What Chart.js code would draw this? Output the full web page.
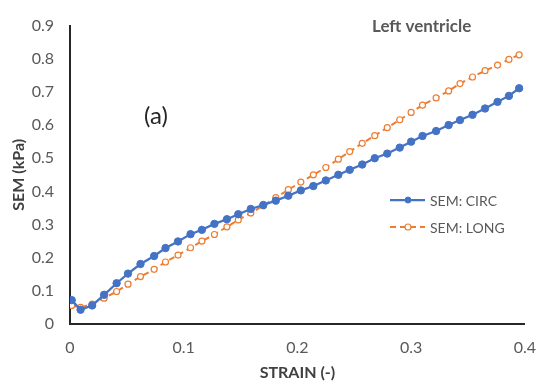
<!DOCTYPE html>
<html>
<head>
<meta charset="utf-8">
<script src="https://cdn.jsdelivr.net/npm/chart.js@4"></script>
<style>
  html, body { margin: 0; padding: 0; background: #fff; }
  #wrap { width: 550px; height: 392px; }
</style>
</head>
<body>
<div id="wrap"><canvas id="semChart"></canvas></div>
<script>
// strain (-) and SEM (kPa)
const strain = [0.0015, 0.0093, 0.0195, 0.030, 0.041, 0.051, 0.062, 0.074, 0.084, 0.095,
  0.106, 0.116, 0.127, 0.138, 0.148, 0.159, 0.170, 0.181, 0.192, 0.203,
  0.214, 0.225, 0.236, 0.246, 0.257, 0.268, 0.279, 0.290, 0.300, 0.310,
  0.322, 0.333, 0.343, 0.354, 0.365, 0.376, 0.386, 0.395];
const semCirc = [0.072, 0.043, 0.056, 0.088, 0.123, 0.152, 0.181, 0.205, 0.229, 0.249,
  0.271, 0.284, 0.302, 0.316, 0.331, 0.347, 0.359, 0.372, 0.387, 0.403,
  0.416, 0.433, 0.450, 0.465, 0.481, 0.500, 0.514, 0.532, 0.550, 0.567,
  0.582, 0.600, 0.615, 0.631, 0.650, 0.670, 0.688, 0.711];
const semLong = [0.056, 0.050, 0.060, 0.078, 0.098, 0.120, 0.143, 0.165, 0.187, 0.208,
  0.230, 0.250, 0.270, 0.293, 0.314, 0.335, 0.357, 0.381, 0.405, 0.428,
  0.450, 0.472, 0.497, 0.520, 0.545, 0.568, 0.592, 0.616, 0.638, 0.660,
  0.682, 0.703, 0.725, 0.745, 0.764, 0.781, 0.798, 0.812];
const seriesNames = ["SEM: CIRC", "SEM: LONG"];

const toPoints = (ys) => ys.map((y, i) => ({ x: strain[i], y: y }));

// legend + panel texts drawn inside the plot
const extras = {
  id: "extras",
  afterDraw(chart) {
    const c = chart.ctx;
    c.save();
    c.textBaseline = "middle";

    c.fillStyle = "#595959";
    c.font = "bold 17px Lato";
    c.fillText("Left ventricle", 372, 27);

    c.fillStyle = "#262626";
    c.font = "24px Lato";
    c.fillText("(a)", 144, 116);

    const rows = [200, 227];
    chart.data.datasets.forEach((ds, i) => {
      const y = rows[i];
      c.strokeStyle = ds.borderColor;
      c.lineWidth = ds.borderWidth;
      c.setLineDash(ds.borderDash || []);
      c.beginPath();
      c.moveTo(390, y);
      c.lineTo(425, y);
      c.stroke();
      c.setLineDash([]);
      c.beginPath();
      c.arc(408, y, 3, 0, Math.PI * 2);
      c.fillStyle = ds.pointBackgroundColor;
      c.fill();
      c.lineWidth = ds.pointBorderWidth;
      c.strokeStyle = ds.pointBorderColor;
      c.stroke();
      c.fillStyle = "#595959";
      c.font = "14px Lato";
      c.fillText(ds.label, 430, y + 1);
    });
    c.restore();
  }
};

new Chart(document.getElementById("semChart"), {
  type: "scatter",
  data: {
    datasets: [
      {
        label: seriesNames[0],
        data: toPoints(semCirc),
        showLine: true,
        borderColor: "#4472C4",
        borderWidth: 2.25,
        pointRadius: 3.7,
        pointBackgroundColor: "#4472C4",
        pointBorderColor: "#4472C4",
        pointBorderWidth: 1,
      },
      {
        label: seriesNames[1],
        data: toPoints(semLong),
        showLine: true,
        borderColor: "#ED7D31",
        borderWidth: 2,
        borderDash: [6, 4],
        pointRadius: 3,
        pointBackgroundColor: "#ffffff",
        pointBorderColor: "#ED7D31",
        pointBorderWidth: 1.2,
      },
    ],
  },
  options: {
    responsive: true,
    maintainAspectRatio: false,
    animation: false,
    layout: { padding: { top: 16, right: 20, left: 0, bottom: 0 } },
    plugins: {
      legend: { display: false },
      tooltip: { enabled: false },
    },
    scales: {
      x: {
        type: "linear",
        min: 0,
        max: 0.4,
        grid: { display: false, drawTicks: false },
        border: { display: true, color: "#262626", width: 2 },
        ticks: {
          stepSize: 0.1,
          padding: 14,
          color: "#595959",
          font: { family: "Lato", size: 16 },
          callback: (v) => (v === 0 ? "0" : v.toFixed(1)),
        },
        title: {
          display: true,
          text: "STRAIN (-)",
          color: "#404040",
          font: { family: "Lato", size: 16, weight: "bold" },
          padding: { bottom: 10 },
        },
        afterFit: (s) => { s.height = 68; },
      },
      y: {
        min: 0,
        max: 0.9,
        grid: { display: false, drawTicks: false },
        border: { display: true, color: "#262626", width: 2 },
        ticks: {
          stepSize: 0.1,
          padding: 16,
          color: "#595959",
          font: { family: "Lato", size: 16 },
          callback: (v) => (v === 0 ? "0" : v.toFixed(1)),
        },
        title: {
          display: true,
          text: "SEM (kPa)",
          color: "#404040",
          font: { family: "Lato", size: 16, weight: "bold" },
          padding: { top: 9 },
        },
        afterFit: (s) => { s.width = 70; },
      },
    },
  },
  plugins: [extras],
});
</script>
</body>
</html>
